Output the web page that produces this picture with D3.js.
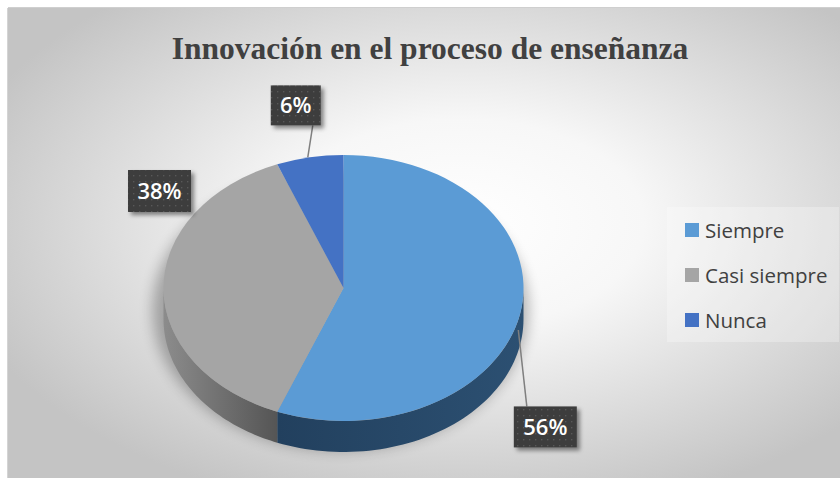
<!DOCTYPE html>
<html>
<head>
<meta charset="utf-8">
<script src="https://cdn.jsdelivr.net/npm/d3@7/dist/d3.min.js"></script>
<style>
  html, body { margin: 0; padding: 0; background: #ffffff; }
  svg { display: block; }
</style>
</head>
<body>
<div id="chart"></div>
<script>
// data
const categories = ["Siempre", "Casi siempre", "Nunca"];
const values = [56, 38, 6];
const valueLabels = ["56%", "38%", "6%"];
const chartTitle = "Innovación en el proceso de enseñanza";

const colors = ["#5B9BD5", "#A5A5A5", "#4472C4"];

document.addEventListener('DOMContentLoaded', function() {
    const W = 840, H = 478;
    const svg = d3.select('#chart').append('svg')
        .attr('width', W)
        .attr('height', H);

    const defs = svg.append('defs');

    // background gradient
    const bg = defs.append('radialGradient').attr('id', 'bg')
        .attr('cx', '0.54').attr('cy', '0.45').attr('r', '0.62');
    bg.append('stop').attr('offset', '0%').attr('stop-color', '#ffffff');
    bg.append('stop').attr('offset', '35%').attr('stop-color', '#f7f7f7');
    bg.append('stop').attr('offset', '100%').attr('stop-color', '#c4c4c4');

    // side gradients
    const sideBlue = defs.append('linearGradient').attr('id', 'side0')
        .attr('x1', '0').attr('x2', '1').attr('y1', '0').attr('y2', '0');
    sideBlue.append('stop').attr('offset', '0%').attr('stop-color', '#22405e');
    sideBlue.append('stop').attr('offset', '100%').attr('stop-color', '#2c5072');
    const sideGray = defs.append('linearGradient').attr('id', 'side1')
        .attr('x1', '0').attr('x2', '1').attr('y1', '0').attr('y2', '0');
    sideGray.append('stop').attr('offset', '0%').attr('stop-color', '#8c8c8c');
    sideGray.append('stop').attr('offset', '100%').attr('stop-color', '#555555');

    // blur for pie shadow
    defs.append('filter').attr('id', 'blur')
        .attr('x', '-20%').attr('y', '-20%').attr('width', '140%').attr('height', '140%')
        .append('feGaussianBlur').attr('stdDeviation', 7);

    // label box shadow
    const ds = defs.append('filter').attr('id', 'boxShadow')
        .attr('x', '-20%').attr('y', '-20%').attr('width', '150%').attr('height', '150%');
    ds.append('feDropShadow').attr('dx', 3).attr('dy', 3).attr('stdDeviation', 2)
        .attr('flood-color', '#000').attr('flood-opacity', 0.45);

    // dotted pattern for label boxes
    const pat = defs.append('pattern').attr('id', 'dots')
        .attr('width', 6).attr('height', 6).attr('patternUnits', 'userSpaceOnUse');
    pat.append('rect').attr('width', 6).attr('height', 6).attr('fill', '#3d3d3d');
    pat.append('rect').attr('x', 1).attr('y', 1).attr('width', 1.3).attr('height', 1.3).attr('fill', '#595959');

    // chart area
    svg.append('rect')
        .attr('x', 8).attr('y', 8).attr('width', W).attr('height', H)
        .attr('fill', 'url(#bg)');
    svg.append('line')
        .attr('x1', 8).attr('x2', W).attr('y1', 7.5).attr('y2', 7.5)
        .attr('stroke', '#cfcfcf').attr('stroke-width', 1);
    svg.append('line')
        .attr('x1', 7.5).attr('x2', 7.5).attr('y1', 8).attr('y2', H)
        .attr('stroke', '#d4d4d4').attr('stroke-width', 1);

    // title
    svg.append('text')
        .attr('x', 430).attr('y', 59)
        .attr('text-anchor', 'middle')
        .attr('font-family', '"Liberation Serif", "Times New Roman", serif')
        .attr('font-weight', 'bold')
        .attr('font-size', 31.5)
        .attr('fill', '#404040')
        .text(chartTitle);

    // pie geometry
    const cx = 343.5, cy = 288, rx = 180, ry = 133, depth = 31;
    const pie = d3.pie().sort(null).value(d => d);
    const arcs = pie(values);

    const ex = a => cx + rx * Math.sin(a);
    const ey = a => cy - ry * Math.cos(a);

    // shadow
    svg.append('ellipse')
        .attr('cx', cx - 3).attr('cy', cy + depth * 0.7)
        .attr('rx', rx + 8).attr('ry', ry + 8)
        .attr('fill', '#000').attr('opacity', 0.28)
        .attr('filter', 'url(#blur)');

    // side walls (front half only: angles PI/2 .. 3PI/2)
    const sideG = svg.append('g');
    arcs.forEach((d, i) => {
        const a0 = Math.max(d.startAngle, Math.PI / 2);
        const a1 = Math.min(d.endAngle, 3 * Math.PI / 2);
        if (a1 <= a0) return;
        const n = 60;
        const pts = [];
        for (let k = 0; k <= n; k++) {
            const a = a0 + (a1 - a0) * k / n;
            pts.push([ex(a), ey(a)]);
        }
        for (let k = n; k >= 0; k--) {
            const a = a0 + (a1 - a0) * k / n;
            pts.push([ex(a), ey(a) + depth]);
        }
        sideG.append('path')
            .attr('d', d3.line()(pts) + 'Z')
            .attr('fill', `url(#side${i})`);
    });

    // top faces
    const arcGen = d3.arc().innerRadius(0).outerRadius(rx);
    svg.append('g')
        .attr('transform', `translate(${cx},${cy}) scale(1,${ry / rx})`)
        .selectAll('path')
        .data(arcs)
        .enter().append('path')
        .attr('d', arcGen)
        .attr('fill', (d, i) => colors[i]);

    // data labels
    const labelLayout = [
        {dx: 25, dy: 114, w: 63, h: 41, leader: true},
        {dx: -4, dy: -97, w: 63, h: 42, leader: false},
        {dx: -14, dy: -52, w: 50, h: 40, leader: true}
    ];
    const labelG = svg.append('g');
    arcs.forEach((d, i) => {
        const L = labelLayout[i];
        const mid = (d.startAngle + d.endAngle) / 2;
        const axp = ex(mid), ayp = ey(mid);
        const bx = axp + L.dx, by = ayp + L.dy;
        if (L.leader) {
            const front = Math.cos(mid) < 0;
            const sy = front ? ayp + depth * 0.55 : ayp;
            const ty = L.dy > 0 ? by - L.h / 2 : by + L.h / 2;
            const tx = L.dy > 0 ? bx - L.w / 2 + 13 : axp + 3;
            labelG.append('line')
                .attr('x1', axp - 2).attr('y1', sy)
                .attr('x2', tx).attr('y2', ty)
                .attr('stroke', '#7f7f7f').attr('stroke-width', 1.5);
        }
        labelG.append('rect')
            .attr('x', bx - L.w / 2).attr('y', by - L.h / 2)
            .attr('width', L.w).attr('height', L.h)
            .attr('fill', 'url(#dots)')
            .attr('filter', 'url(#boxShadow)');
        labelG.append('text')
            .attr('x', bx).attr('y', by + 8)
            .attr('text-anchor', 'middle')
            .attr('font-family', '"Open Sans", sans-serif')
            .attr('font-weight', 600)
            .attr('font-size', 22)
            .attr('fill', '#ffffff')
            .text(valueLabels[i]);
    });

    // legend
    const legend = svg.append('g');
    legend.append('rect')
        .attr('x', 667).attr('y', 207).attr('width', 172).attr('height', 135)
        .attr('fill', '#ffffff').attr('opacity', 0.28);
    const legY = d3.scalePoint().domain(categories).range([230, 320]);
    categories.forEach((c, i) => {
        legend.append('rect')
            .attr('x', 685).attr('y', legY(c) - 7)
            .attr('width', 14).attr('height', 14)
            .attr('fill', colors[i]);
        legend.append('text')
            .attr('x', 705).attr('y', legY(c) + 7.5)
            .attr('font-family', '"Open Sans", sans-serif')
            .attr('font-size', 20.5)
            .attr('fill', '#404040')
            .text(c);
    });
});
</script>
</body>
</html>
